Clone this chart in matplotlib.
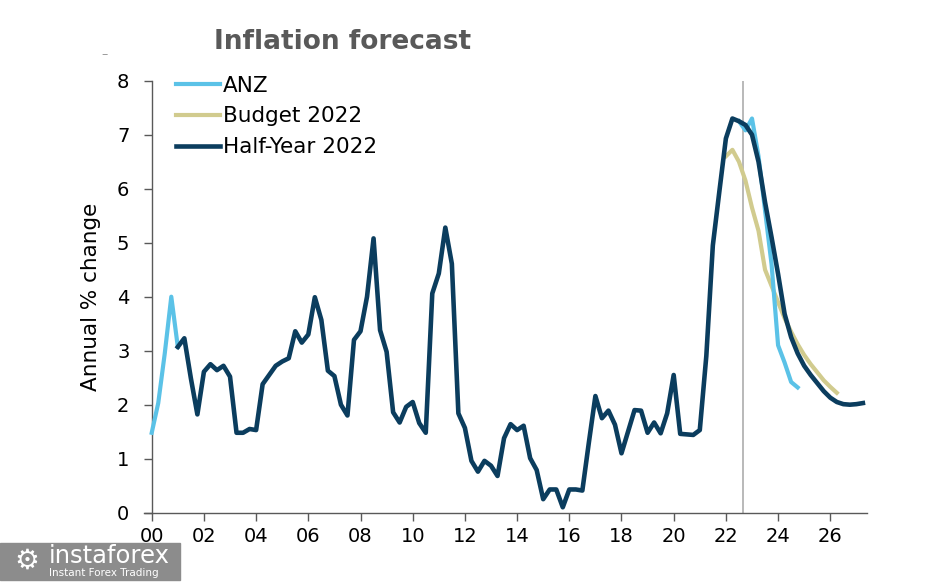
import numpy as np
import matplotlib
matplotlib.use('Agg')
from matplotlib import pyplot as plt
from matplotlib.patches import Rectangle

# quarterly data, x in years since 2000
anz_hist_x = [0.0, 0.25, 0.5, 0.75, 1.0]
anz_hist = [1.48, 2.03, 2.95, 4.0, 3.07]

anz_fc_x = [22.5, 22.75, 23.0, 23.25, 23.5, 23.75, 24.0, 24.25, 24.5, 24.75]
anz_fc = [7.25, 7.08, 7.3, 6.6, 5.6, 4.6, 3.1, 2.78, 2.42, 2.32]

budget_x = [22.0, 22.25, 22.5, 22.75, 23.0, 23.25, 23.5, 23.75, 24.0, 24.25,
            24.5, 24.75, 25.0, 25.25, 25.5, 25.75, 26.0, 26.25]
budget = [6.6, 6.72, 6.5, 6.15, 5.65, 5.22, 4.5, 4.2, 3.9, 3.6,
          3.35, 3.12, 2.92, 2.75, 2.6, 2.45, 2.33, 2.22]

halfyear = [3.07, 3.23, 2.49, 1.82, 2.61, 2.75, 2.64, 2.72, 2.52, 1.48,
            1.48, 1.55, 1.53, 2.38, 2.55, 2.72, 2.8, 2.86, 3.36, 3.15,
            3.3, 3.99, 3.57, 2.63, 2.53, 2.0, 1.8, 3.2, 3.36, 4.0,
            5.08, 3.38, 2.98, 1.86, 1.67, 1.96, 2.05, 1.66, 1.48, 4.06,
            4.43, 5.28, 4.61, 1.84, 1.57, 0.96, 0.76, 0.96, 0.87, 0.68,
            1.38, 1.64, 1.53, 1.61, 1.01, 0.79, 0.25, 0.43, 0.43, 0.10,
            0.43, 0.43, 0.41, 1.3, 2.16, 1.75, 1.89, 1.63, 1.1, 1.5,
            1.9, 1.89, 1.48, 1.67, 1.47, 1.84, 2.55, 1.46, 1.45, 1.44,
            1.53, 2.9, 4.95, 5.95, 6.93, 7.3, 7.25, 7.18, 7.0, 6.5,
            5.75, 5.1, 4.42, 3.68, 3.25, 2.95, 2.72, 2.55, 2.4, 2.25,
            2.13, 2.05, 2.01, 2.0, 2.01, 2.03]
halfyear_x = 1.0 + 0.25 * np.arange(len(halfyear))

xticks = list(range(0, 27, 2))
xticklabels = ['%02d' % t for t in xticks]
release = 22.67

c_anz = '#5bc2e7'
c_bud = '#d1cb8e'
c_hy = '#0b3d5e'

fig = plt.figure(figsize=(9.46, 5.87), dpi=100)
ax = fig.add_axes([0.1521, 0.1266, 0.7642, 0.7359])

ax.axvline(release, color='#a6a6a6', lw=1.1, zorder=1)
ax.plot(budget_x, budget, color=c_bud, lw=3.0, label='Budget 2022', zorder=2)
ax.plot(anz_hist_x, anz_hist, color=c_anz, lw=3.0, zorder=3)
ax.plot(anz_fc_x, anz_fc, color=c_anz, lw=3.0, label='ANZ', zorder=3)
ax.plot(halfyear_x, halfyear, color=c_hy, lw=3.3, label='Half-Year 2022', zorder=4)

ax.set_xlim(-0.3, 27.4)
ax.set_ylim(0, 8)
ax.set_xticks(xticks)
ax.set_xticklabels(xticklabels)
ax.set_yticks(range(0, 9))

for s in ['top', 'right']:
    ax.spines[s].set_visible(False)
ax.spines['left'].set_position(('data', 0))
for s in ['left', 'bottom']:
    ax.spines[s].set_color('#595959')
    ax.spines[s].set_linewidth(1)
ax.tick_params(direction='out', length=6, width=1, color='#595959',
               labelsize=14, labelcolor='black')
ax.tick_params(axis='x', pad=4)
ax.tick_params(axis='y', pad=10)

ax.set_ylabel('Annual % change', fontsize=15.5)
ax.yaxis.set_label_coords(-0.059, 0.5)

h, l = ax.get_legend_handles_labels()
order = [1, 0, 2]
ax.legend([h[i] for i in order], [l[i] for i in order], loc='upper left',
          bbox_to_anchor=(0.044, 1.012), frameon=False, fontsize=15.5,
          handlelength=2.05, handletextpad=0.15, labelspacing=0.5,
          borderpad=0, borderaxespad=0)

fig.text(343 / 946, 1 - 42 / 587, 'Inflation forecast', fontsize=19,
         fontweight='bold', color='#595959', ha='center', va='center')
fig.text(105 / 946, 1 - 55 / 587, '–', fontsize=9, color='#999999',
         ha='center', va='center')

# watermark box
fig.patches.append(Rectangle((0, 7 / 587), 180 / 946, 37 / 587,
                             transform=fig.transFigure, color='#8c8c8c',
                             zorder=0))
fig.text(49 / 946, 1 - 556 / 587, 'instaforex', fontsize=17.5, color='white',
         ha='left', va='center')
fig.text(49 / 946, 1 - 573 / 587, 'Instant Forex Trading', fontsize=7.5,
         color='white', ha='left', va='center')
fig.text(27 / 946, 1 - 561 / 587, '⚙', fontsize=20, color='white',
         ha='center', va='center')

plt.savefig('out.png', dpi=100)
